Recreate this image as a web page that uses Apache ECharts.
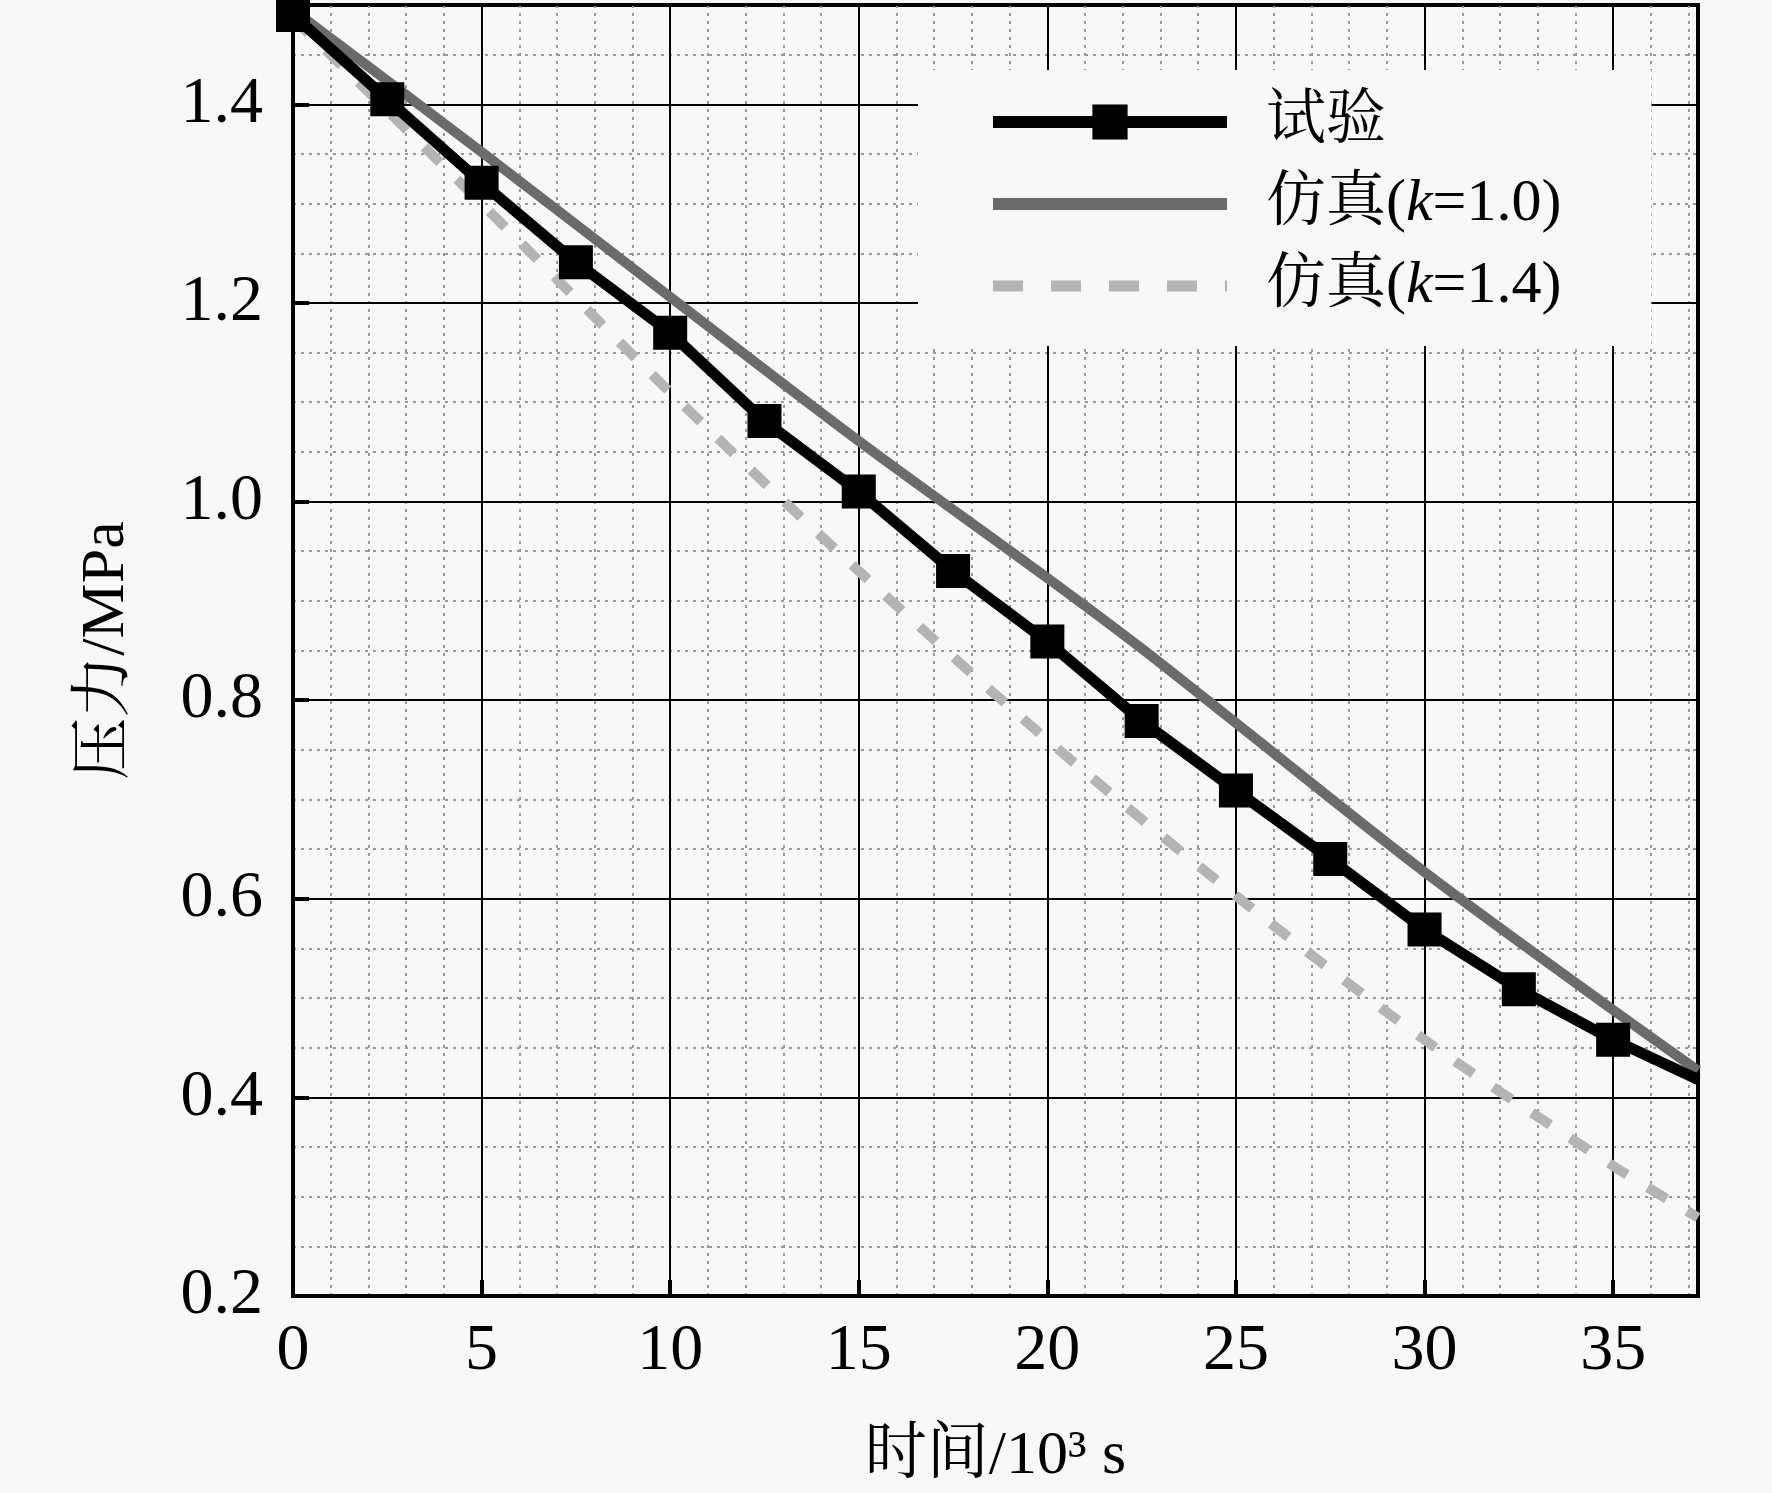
<!DOCTYPE html>
<html>
<head>
<meta charset="utf-8">
<title>压力-时间</title>
<script src="https://cdn.jsdelivr.net/npm/echarts@6/dist/echarts.min.js"></script>
<style>
    html, body { margin: 0; padding: 0; background: #f8f8f8; }
    #chart { width: 1772px; height: 1493px; }
</style>
</head>
<body>
<div id="chart"></div>
<script>
// 试验数据 (时间 10^3 s, 压力 MPa)
var timeTest = [0, 2.5, 5, 7.5, 10, 12.5, 15, 17.5, 20, 22.5, 25, 27.5, 30, 32.5, 35, 37.25];
var pressTest = [1.49, 1.405, 1.321, 1.241, 1.170, 1.081, 1.010, 0.930, 0.859, 0.779, 0.709, 0.640, 0.569, 0.509, 0.458, 0.418];

// 仿真曲线
var timeSim = [0, 5, 10, 15, 20, 22.5, 25, 30, 35, 37.25];
var pressSim10 = [1.495, 1.352, 1.206, 1.061, 0.923, 0.852, 0.777, 0.627, 0.488, 0.427];
var timeSim14 = [0, 5, 10, 15, 20, 25, 30, 35, 37.25];
var pressSim14 = [1.487, 1.300, 1.110, 0.930, 0.760, 0.603, 0.458, 0.331, 0.279];

var xTicks = [0, 37.25, 5];      // min, max, interval
var yTicks = [0.2, 1.5, 0.2];

var seriesNames = ['试验', '仿真(k=1.0)', '仿真(k=1.4)'];

var fontEn = '"Liberation Serif", "Times New Roman", "Noto Serif CJK SC", "Noto Sans CJK SC", serif';

function pairs(xs, ys) {
    return xs.map(function (x, i) { return [x, ys[i]]; });
}

var myChart = echarts.init(document.getElementById('chart'), null, { renderer: 'canvas' });

var testData = pairs(timeTest, pressTest).map(function (p, i) {
    // 末点没有方块
    if (i === timeTest.length - 1) {
        return { value: p, symbol: 'none' };
    }
    return p;
});

var option = {
    backgroundColor: '#f8f8f8',
    animation: false,
    grid: {
        left: 293, right: 74, top: 5, bottom: 196,
        show: true,
        borderColor: '#000',
        borderWidth: 4,
        backgroundColor: 'transparent'
    },
    legend: {
        data: [
            { name: seriesNames[0], lineStyle: { width: 12 } },
            { name: seriesNames[1], lineStyle: { width: 12 }, itemStyle: { opacity: 0 } },
            { name: seriesNames[2], lineStyle: { width: 11, type: [30, 28] }, itemStyle: { opacity: 0 } }
        ],
        orient: 'vertical',
        left: 918,
        top: 70,
        padding: [22, 90, 30, 69],
        backgroundColor: '#f8f8f8',
        itemWidth: 234,
        itemHeight: 44,
        itemGap: 22,
        formatter: function (name) {
            return name.replace('k', '{i|k}');
        },
        textStyle: {
            fontSize: 60,
            color: '#000',
            fontFamily: fontEn,
            padding: [0, 0, 0, 34],
            rich: {
                i: { fontSize: 60, fontStyle: 'italic', fontFamily: fontEn, color: '#000' }
            }
        }
    },
    xAxis: [
        {
            type: 'value',
            min: xTicks[0],
            max: xTicks[1],
            interval: xTicks[2],
            name: '时间/10³ s',
            nameLocation: 'middle',
            nameGap: 130,
            nameTextStyle: { fontSize: 62, color: '#000', fontFamily: fontEn },
            axisLine: { show: true, onZero: false, lineStyle: { color: '#000', width: 4 } },
            axisTick: { show: true, inside: true, length: 16, lineStyle: { color: '#000', width: 4 } },
            axisLabel: { fontSize: 66, color: '#000', fontFamily: fontEn, margin: 23, showMaxLabel: false },
            splitLine: { show: true, lineStyle: { color: '#000', width: 2 } },
            z: 2
        },
        {
            // 细网格
            type: 'value',
            min: xTicks[0],
            max: xTicks[1],
            interval: 1,
            axisLine: { show: false },
            axisTick: { show: false },
            axisLabel: { show: false },
            splitLine: { show: true, lineStyle: { color: '#999', width: 2, type: [3, 5] } },
            z: 0
        }
    ],
    yAxis: [
        {
            type: 'value',
            min: yTicks[0],
            max: yTicks[1],
            interval: yTicks[2],
            name: '压力/MPa',
            nameLocation: 'middle',
            nameGap: 155,
            nameTextStyle: { fontSize: 62, color: '#000', fontFamily: fontEn },
            axisLine: { show: true, onZero: false, lineStyle: { color: '#000', width: 4 } },
            axisTick: { show: true, inside: true, length: 16, lineStyle: { color: '#000', width: 4 } },
            axisLabel: {
                fontSize: 66, color: '#000', fontFamily: fontEn, margin: 30, showMaxLabel: false,
                formatter: function (v) { return v.toFixed(1); }
            },
            splitLine: { show: true, lineStyle: { color: '#000', width: 2 } },
            z: 2
        },
        {
            type: 'value',
            min: yTicks[0],
            max: yTicks[1],
            interval: 0.05,
            axisLine: { show: false },
            axisTick: { show: false },
            axisLabel: { show: false },
            splitLine: { show: true, lineStyle: { color: '#999', width: 2, type: [3, 5] } },
            z: 0
        }
    ],
    series: [
        {
            name: seriesNames[0],
            type: 'line',
            data: testData,
            symbol: 'rect',
            symbolSize: 34,
            lineStyle: { color: '#000', width: 11 },
            itemStyle: { color: '#000' },
            z: 5
        },
        {
            name: seriesNames[1],
            type: 'line',
            data: pairs(timeSim, pressSim10),
            smooth: 0.3,
            showSymbol: false,
            symbol: 'none',
            lineStyle: { color: '#6b6b6b', width: 10 },
            itemStyle: { color: '#6b6b6b' },
            z: 4
        },
        {
            name: seriesNames[2],
            type: 'line',
            data: pairs(timeSim14, pressSim14),
            smooth: 0.3,
            showSymbol: false,
            symbol: 'none',
            lineStyle: { color: '#b4b4b4', width: 10, type: [22, 24] },
            itemStyle: { color: '#b4b4b4' },
            z: 3
        }
    ]
};

myChart.setOption(option);
</script>
</body>
</html>
